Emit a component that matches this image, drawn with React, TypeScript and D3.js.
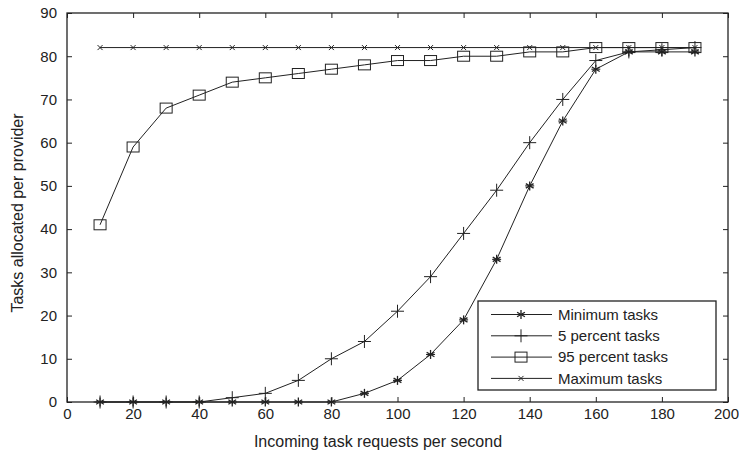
import * as d3 from 'd3';
import { useEffect, useRef } from 'react';

const xs = [10, 20, 30, 40, 50, 60, 70, 80, 90, 100, 110, 120, 130, 140, 150, 160, 170, 180, 190];
const minTasks = [0, 0, 0, 0, 0, 0, 0, 0, 2, 5, 11, 19, 33, 50, 65, 77, 81, 81, 81];
const p5Tasks = [0, 0, 0, 0, 1, 2, 5, 10, 14, 21, 29, 39, 49, 60, 70, 79, 81, 81.5, 82];
const p95Tasks = [41, 59, 68, 71, 74, 75, 76, 77, 78, 79, 79, 80, 80, 81, 81, 82, 82, 82, 82];
const maxTasks = [82, 82, 82, 82, 82, 82, 82, 82, 82, 82, 82, 82, 82, 82, 82, 82, 82, 82, 82];
const seriesNames = ['Minimum tasks', '5 percent tasks', '95 percent tasks', 'Maximum tasks'];
const xTicks = [0, 20, 40, 60, 80, 100, 120, 140, 160, 180, 200];
const yTicks = [0, 10, 20, 30, 40, 50, 60, 70, 80, 90];

const App = () => {
  const ref = useRef<SVGSVGElement>(null);

  useEffect(() => {
    const svg = d3.select(ref.current);
    svg.selectAll('*').remove();

    const width = 739;
    const height = 453;
    const margin = { top: 13, right: 11, bottom: 51, left: 67 };
    const font = 'Liberation Sans, Arial, Helvetica, sans-serif';
    const ink = '#222';

    const x = d3.scaleLinear().domain([0, 200]).range([margin.left, width - margin.right]);
    const y = d3.scaleLinear().domain([0, 90]).range([height - margin.bottom, margin.top]);

    svg.attr('width', width).attr('height', height);
    svg.append('rect').attr('width', width).attr('height', height).attr('fill', '#fff');

    const tick = 5;
    // x axis bottom + mirrored top
    const bottom = svg.append('g').attr('transform', `translate(0,${y(0)})`)
      .call(d3.axisBottom(x).tickValues(xTicks).tickSizeInner(-tick).tickSizeOuter(0).tickPadding(6));
    const top = svg.append('g').attr('transform', `translate(0,${y(90)})`)
      .call(d3.axisTop(x).tickValues(xTicks).tickSizeInner(-tick).tickSizeOuter(0).tickFormat(() => ''));
    const left = svg.append('g').attr('transform', `translate(${x(0)},0)`)
      .call(d3.axisLeft(y).tickValues(yTicks).tickSizeInner(-tick).tickSizeOuter(0).tickPadding(10));
    const right = svg.append('g').attr('transform', `translate(${x(200)},0)`)
      .call(d3.axisRight(y).tickValues(yTicks).tickSizeInner(-tick).tickSizeOuter(0).tickFormat(() => ''));

    [bottom, top, left, right].forEach(g => {
      g.select('.domain').remove();
      g.selectAll('line').attr('stroke', ink);
      g.selectAll('text').attr('fill', ink).style('font-family', font).style('font-size', '15px');
    });
    bottom.selectAll('text').attr('y', 17).attr('dy', 0);
    // keep the last label inside the picture
    bottom.selectAll('text').filter(d => d === 200).attr('x', -2);

    svg.append('rect')
      .attr('x', x(0)).attr('y', y(90))
      .attr('width', x(200) - x(0)).attr('height', y(0) - y(90))
      .attr('fill', 'none').attr('stroke', ink).attr('stroke-width', 1.3);

    // axis titles
    svg.append('text')
      .attr('x', 378).attr('y', 447)
      .attr('text-anchor', 'middle').attr('fill', ink)
      .style('font-family', font).style('font-size', '16px')
      .text('Incoming task requests per second');

    svg.append('text')
      .attr('transform', `translate(23,213) rotate(-90)`)
      .attr('text-anchor', 'middle').attr('fill', ink)
      .style('font-family', font).style('font-size', '16px')
      .text('Tasks allocated per provider');

    const drawMarker = (g, kind, cx, cy) => {
      if (kind === 0) {
        const r = 4.5;
        for (let a = 0; a < 3; a++) {
          const t = Math.PI / 2 + a * Math.PI / 3;
          g.append('line')
            .attr('x1', cx - r * Math.cos(t)).attr('y1', cy - r * Math.sin(t))
            .attr('x2', cx + r * Math.cos(t)).attr('y2', cy + r * Math.sin(t))
            .attr('stroke', ink).attr('stroke-width', 1.3);
        }
        g.append('line').attr('x1', cx - 4.5).attr('x2', cx + 4.5).attr('y1', cy).attr('y2', cy)
          .attr('stroke', ink).attr('stroke-width', 1.1);
      } else if (kind === 1) {
        const r = 6.5;
        g.append('line').attr('x1', cx - r).attr('x2', cx + r).attr('y1', cy).attr('y2', cy)
          .attr('stroke', ink).attr('stroke-width', 1);
        g.append('line').attr('x1', cx).attr('x2', cx).attr('y1', cy - r).attr('y2', cy + r)
          .attr('stroke', ink).attr('stroke-width', 1);
      } else if (kind === 2) {
        g.append('rect').attr('x', cx - 6).attr('y', cy - 5).attr('width', 12).attr('height', 10)
          .attr('fill', 'none').attr('stroke', ink).attr('stroke-width', 1);
      } else {
        const r = 2.5;
        g.append('line').attr('x1', cx - r).attr('x2', cx + r).attr('y1', cy - r).attr('y2', cy + r)
          .attr('stroke', ink).attr('stroke-width', 1);
        g.append('line').attr('x1', cx - r).attr('x2', cx + r).attr('y1', cy + r).attr('y2', cy - r)
          .attr('stroke', ink).attr('stroke-width', 1);
      }
    };

    const all = [minTasks, p5Tasks, p95Tasks, maxTasks];
    const line = d3.line<number>().x((_, i) => x(xs[i])).y(d => y(d));

    all.forEach((vals, k) => {
      const g = svg.append('g');
      g.append('path').attr('d', line(vals)).attr('fill', 'none').attr('stroke', ink).attr('stroke-width', 1);
      vals.forEach((v, i) => drawMarker(g, k, x(xs[i]), y(v)));
    });

    // Legend
    const lg = svg.append('g');
    lg.append('rect').attr('x', 478).attr('y', 301).attr('width', 238).attr('height', 89)
      .attr('fill', '#fff').attr('stroke', ink).attr('stroke-width', 1.3);
    seriesNames.forEach((name, k) => {
      const ly = 314.5 + k * 21.3;
      lg.append('line').attr('x1', 491).attr('x2', 552).attr('y1', ly).attr('y2', ly)
        .attr('stroke', ink).attr('stroke-width', 1);
      drawMarker(lg, k, 521, ly);
      lg.append('text').attr('x', 558).attr('y', ly).attr('dy', '0.35em').attr('fill', ink)
        .style('font-family', font).style('font-size', '15px').text(name);
    });
  }, []);

  return <svg ref={ref} style={{ display: 'block', position: 'absolute', left: 0, top: 0 }} />;
};

export default App;
